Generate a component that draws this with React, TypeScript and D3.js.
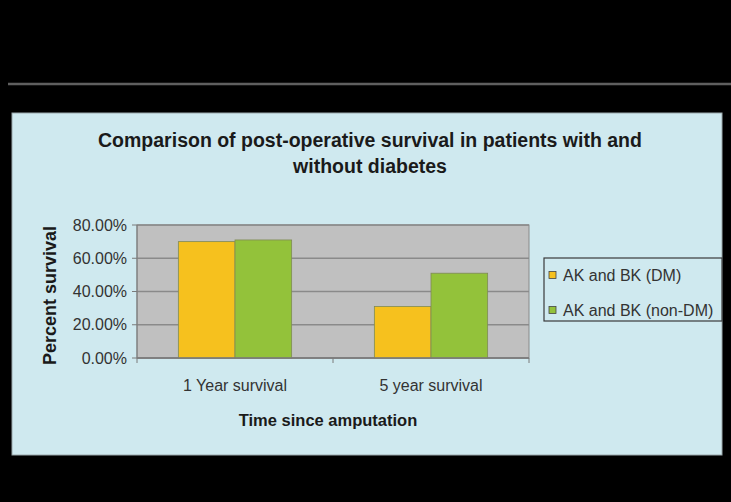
import React from 'react';
import * as d3 from 'd3';

const categories = ['1 Year survival', '5 year survival'];
const seriesNames = ['AK and BK (DM)', 'AK and BK (non-DM)'];
const dmValues = [0.70, 0.31];
const nonDmValues = [0.71, 0.51];
const yTicks = [0, 0.2, 0.4, 0.6, 0.8];

const W = 731;
const H = 502;
const colors = ['#f6c11e', '#93c23a'];
const font = '"Liberation Sans", Arial, sans-serif';

export default function App() {
  const plot = { left: 137, right: 529, top: 225, bottom: 358 };

  const x = d3.scaleBand().domain(categories).range([plot.left, plot.right]).paddingInner(0).paddingOuter(0);
  const inner = d3.scaleBand().domain(seriesNames).range([0, x.bandwidth()]).paddingInner(0).paddingOuter(0.73);
  const y = d3.scaleLinear().domain([0, 0.8]).range([plot.bottom, plot.top]);
  const fmt = d3.format('.2%');

  const series = [dmValues, nonDmValues];
  const boundaries = [plot.left, ...categories.map(c => (x(c) as number) + x.bandwidth())];

  return (
    <svg width={W} height={H} style={{ position: 'absolute', left: 0, top: 0, fontFamily: font }}>
      <rect x={0} y={0} width={W} height={H} fill="#000" />
      <line x1={8} x2={W} y1={84} y2={84} stroke="#5f5f5f" strokeWidth={2.5} />
      <rect x={12} y={113} width={710} height={342} fill="#cfe9ef" stroke="#9aa8ab" strokeWidth={1} />

      <text x={370} y={147} textAnchor="middle" fontSize={19.5} fontWeight="bold" fill="#1a1a1a">
        Comparison of post-operative survival in patients with and
      </text>
      <text x={370} y={173} textAnchor="middle" fontSize={19.5} fontWeight="bold" fill="#1a1a1a">
        without diabetes
      </text>

      <rect x={plot.left} y={plot.top} width={plot.right - plot.left} height={plot.bottom - plot.top} fill="#c0c0c0" stroke="#8a8a8a" />
      {yTicks.map(t => (
        <g key={t}>
          <line x1={plot.left} x2={plot.right} y1={y(t)} y2={y(t)} stroke="#8a8a8a" strokeWidth={1.5} />
          <line x1={plot.left - 5} x2={plot.left} y1={y(t)} y2={y(t)} stroke="#7a7a7a" />
          <text x={127} y={y(t)} dy="0.35em" textAnchor="end" fontSize={16} fill="#333">
            {fmt(t)}
          </text>
        </g>
      ))}
      <line x1={plot.left} x2={plot.left} y1={plot.top} y2={plot.bottom} stroke="#7a7a7a" />

      {categories.map((c, ci) =>
        series.map((vals, si) => (
          <rect
            key={c + si}
            x={(x(c) as number) + (inner(seriesNames[si]) as number)}
            y={y(vals[ci])}
            width={inner.bandwidth()}
            height={plot.bottom - y(vals[ci])}
            fill={colors[si]}
            stroke="#7f8a55"
            strokeWidth={0.8}
          />
        ))
      )}

      <line x1={plot.left} x2={plot.right} y1={plot.bottom} y2={plot.bottom} stroke="#7a7a7a" strokeWidth={1.5} />
      {boundaries.map(b => (
        <line key={b} x1={b} x2={b} y1={plot.bottom} y2={plot.bottom + 5} stroke="#7a7a7a" />
      ))}
      {categories.map(c => (
        <text key={c} x={(x(c) as number) + x.bandwidth() / 2} y={391} textAnchor="middle" fontSize={16} fill="#333">
          {c}
        </text>
      ))}

      <text x={328} y={426} textAnchor="middle" fontSize={16.5} fontWeight="bold" fill="#1a1a1a">
        Time since amputation
      </text>
      <text
        transform={`translate(56,${(plot.top + plot.bottom) / 2 + 4}) rotate(-90)`}
        textAnchor="middle"
        fontSize={18}
        fontWeight="bold"
        fill="#1a1a1a"
      >
        Percent survival
      </text>

      <rect x={544} y={258} width={178} height={63} fill="#cfe9ef" stroke="#3a3a3a" strokeWidth={1.2} />
      {seriesNames.map((s, i) => (
        <g key={s} transform={`translate(0,${275 + i * 35})`}>
          <rect x={549} y={-3.5} width={7} height={7} fill={colors[i]} stroke="#444" strokeWidth={0.8} />
          <text x={563} y={0} dy="0.35em" fontSize={16} fill="#333">
            {s}
          </text>
        </g>
      ))}
    </svg>
  );
}
